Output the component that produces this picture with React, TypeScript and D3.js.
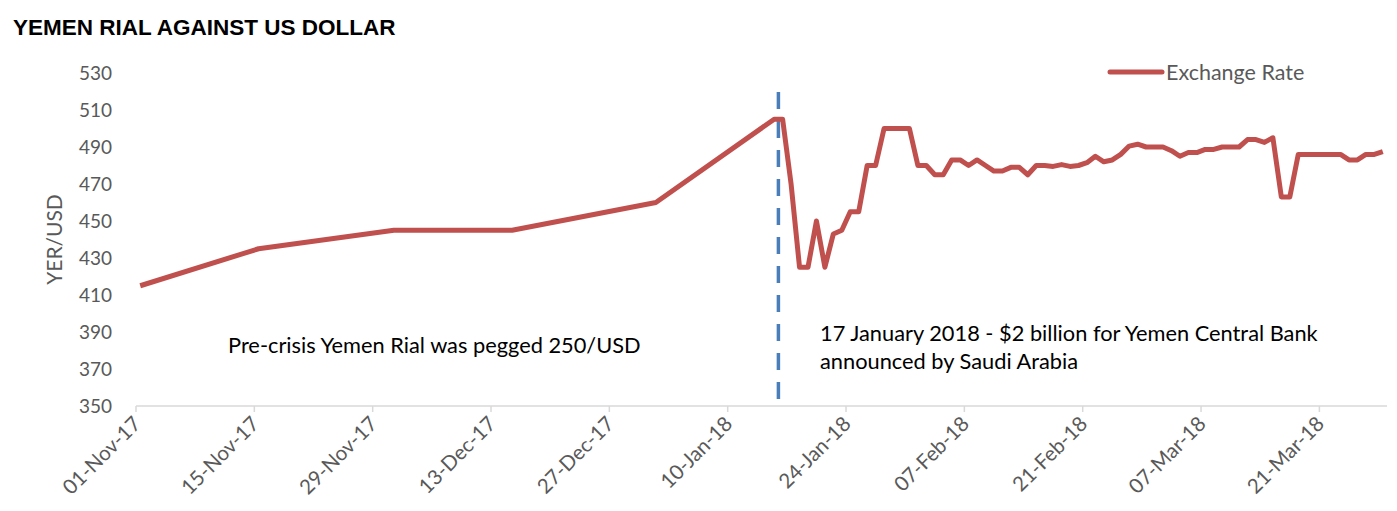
import React from 'react'
import * as d3 from 'd3'

// Exchange rate readings (YER per USD)
const dates = [
  '2017-11-01', '2017-11-15', '2017-12-01', '2017-12-15', '2018-01-01',
  '2018-01-15', '2018-01-16', '2018-01-17', '2018-01-18', '2018-01-19', '2018-01-20',
  '2018-01-21', '2018-01-22', '2018-01-23', '2018-01-24', '2018-01-25', '2018-01-26',
  '2018-01-27', '2018-01-28', '2018-01-29', '2018-01-30', '2018-01-31',
  '2018-02-01', '2018-02-02', '2018-02-03', '2018-02-04', '2018-02-05', '2018-02-06',
  '2018-02-07', '2018-02-08', '2018-02-09', '2018-02-10', '2018-02-11', '2018-02-12',
  '2018-02-13', '2018-02-14', '2018-02-15', '2018-02-16', '2018-02-17', '2018-02-18',
  '2018-02-19', '2018-02-20', '2018-02-21', '2018-02-22', '2018-02-23', '2018-02-24',
  '2018-02-25', '2018-02-26', '2018-02-27', '2018-02-28',
  '2018-03-01', '2018-03-02', '2018-03-03', '2018-03-04', '2018-03-05', '2018-03-06',
  '2018-03-07', '2018-03-08', '2018-03-09', '2018-03-10', '2018-03-11', '2018-03-12',
  '2018-03-13', '2018-03-14', '2018-03-15', '2018-03-16', '2018-03-17', '2018-03-18',
  '2018-03-19', '2018-03-20', '2018-03-21', '2018-03-22', '2018-03-23', '2018-03-24',
  '2018-03-25', '2018-03-26', '2018-03-27', '2018-03-28',
]
const rates = [
  415, 435, 445, 445, 460,
  505, 505, 470, 425, 425, 450,
  425, 443, 445, 455, 455, 480,
  480, 500, 500, 500, 500,
  480, 480, 475, 475, 483, 483,
  480, 483, 480, 477, 477, 479,
  479, 475, 480, 480, 479.5, 480.5,
  479.5, 480, 481.5, 485, 482, 483,
  486, 490.5, 491.5, 490,
  490, 490, 488, 485, 487, 487,
  488.7, 488.7, 490, 490, 490, 494,
  494, 492.5, 495, 463, 463, 486,
  486, 486, 486, 486, 486, 483,
  483, 486, 486, 487.5,
]

const tickLabels = [
  '01-Nov-17', '15-Nov-17', '29-Nov-17', '13-Dec-17', '27-Dec-17', '10-Jan-18',
  '24-Jan-18', '07-Feb-18', '21-Feb-18', '07-Mar-18', '21-Mar-18',
]
const yTicks = [350, 370, 390, 410, 430, 450, 470, 490, 510, 530]

const announcementDate = '2018-01-16'

const W = 1397
const H = 511
const margin = { left: 136, right: 10, top: 73, bottom: 105 }
const font = 'Lato, "Open Sans", sans-serif'
const grey = '#595959'
const lineColor = '#c0504d'

const parse = d3.utcParse('%Y-%m-%d')
const HALF_DAY = 12 * 3600 * 1000

export default function App() {
  const start = parse('2017-11-01')!
  const end = parse('2018-03-29')!
  const x = d3.scaleUtc().domain([start, end]).range([margin.left, W - margin.right])
  const y = d3.scaleLinear().domain([350, 530]).range([H - margin.bottom, margin.top])

  const points = dates.map((d, i) => ({ date: parse(d)!, value: rates[i] }))
  const line = d3
    .line<{ date: Date; value: number }>()
    .x((d) => x(new Date(d.date.getTime() + HALF_DAY)))
    .y((d) => y(d.value))

  const tickDates = tickLabels.map((_, i) => d3.utcDay.offset(start, i * 14))
  const baseY = y(350)
  const annX = x(parse(announcementDate)!)

  return (
    <svg width={W} height={H} style={{ position: 'absolute', left: 0, top: 0 }}>
      <rect width={W} height={H} fill="#fff" />
      <text x={13} y={35} fontFamily='"Liberation Sans", Arial, sans-serif' fontWeight="bold" fontSize={22.5} fill="#000">
        YEMEN RIAL AGAINST US DOLLAR
      </text>

      {/* y axis labels */}
      {yTicks.map((t) => (
        <text key={t} x={112} y={y(t)} dy="0.35em" textAnchor="end" fontFamily={font} fontSize={19} fill={grey}>
          {t}
        </text>
      ))}
      <text
        transform={`translate(55,${(y(350) + y(530)) / 2}) rotate(-90)`}
        textAnchor="middle"
        dy="0.35em"
        fontFamily={font}
        fontSize={21}
        fill={grey}
      >
        YER/USD
      </text>

      {/* x axis */}
      <line x1={margin.left} x2={W - margin.right} y1={baseY} y2={baseY} stroke="#d9d9d9" strokeWidth={1.5} />
      {tickDates.map((d, i) => (
        <g key={i} transform={`translate(${x(d)},${baseY})`}>
          <line y1={0} y2={6} stroke="#d9d9d9" strokeWidth={1.5} />
          <text
            transform="translate(1,14) rotate(-45)"
            textAnchor="end"
            dy="0.35em"
            fontFamily={font}
            fontSize={20.5}
            fill={grey}
          >
            {tickLabels[i]}
          </text>
        </g>
      ))}

      {/* announcement marker */}
      <line x1={annX} x2={annX} y1={92} y2={baseY - 4} stroke="#4a7ebb" strokeWidth={3.5} strokeDasharray="17 12" />

      <path d={line(points)!} fill="none" stroke={lineColor} strokeWidth={5} strokeLinejoin="round" />

      {/* legend */}
      <line x1={1110} x2={1162} y1={72} y2={72} stroke={lineColor} strokeWidth={5} strokeLinecap="round" />
      <text x={1166} y={72} dy="0.35em" fontFamily={font} fontSize={21.5} fill={grey}>
        Exchange Rate
      </text>

      {/* notes */}
      <text x={228} y={353} fontFamily={font} fontSize={21.8} fill="#000">
        Pre-crisis Yemen Rial was pegged 250/USD
      </text>
      <text x={820} y={341} fontFamily={font} fontSize={21.8} fill="#000">
        17 January 2018 - $2 billion for Yemen Central Bank
      </text>
      <text x={820} y={369} fontFamily={font} fontSize={21.8} fill="#000">
        announced by Saudi Arabia
      </text>
    </svg>
  )
}
